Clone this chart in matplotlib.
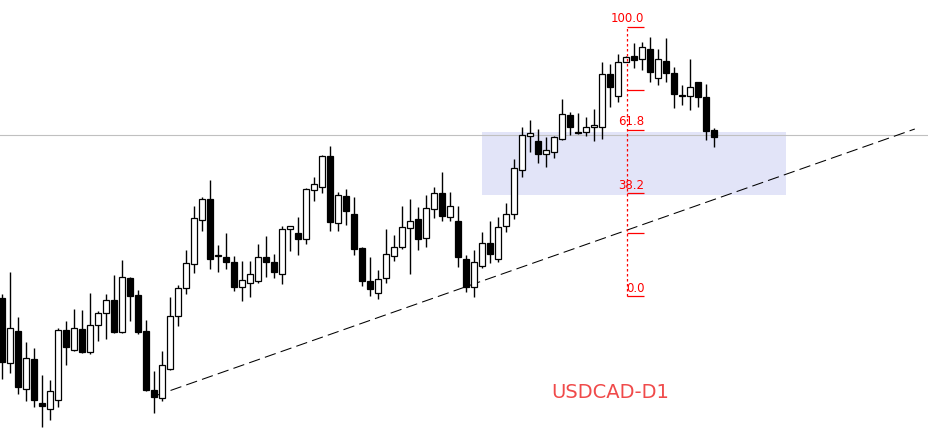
import numpy as np
import matplotlib
matplotlib.use("Agg")
import matplotlib.pyplot as plt
from matplotlib.patches import Rectangle

# USDCAD daily candles, price levels (arbitrary units, up = higher)
opens = [147, 82, 114, 56, 86, 42, 36, 45, 115, 95, 116, 93, 120, 132, 145, 113, 167, 150, 114, 55,
         47, 76, 129, 157, 181, 225, 246, 189, 188, 183, 158, 162, 164, 188, 183, 171, 216, 212, 206, 255,
         258, 289, 222, 249, 231, 197, 164, 152, 167, 189, 198, 217, 226, 207, 236, 252, 228, 224, 186, 158,
         179, 202, 186, 219, 231, 275, 309, 304, 291, 293, 306, 330, 312.5, 313, 318, 318, 371, 349, 383, 389,
         386, 396, 367, 384, 372, 350.5, 349, 363, 348, 315]
highs = [151, 173, 128, 103, 97, 70, 65, 117, 124, 136, 135, 152, 134, 151, 170, 185, 168, 155, 125, 74,
         94, 148, 160, 195, 239, 248, 265, 200, 212, 189, 184, 184, 201, 209, 191, 219, 219, 228, 257, 268,
         290, 299, 253, 256, 248, 198, 188, 175, 216, 210, 239, 246, 238, 250, 258, 273, 253, 239, 190, 195,
         213, 224, 228, 242, 286, 318, 325, 316, 308, 309, 346, 333, 332, 328, 336, 383, 381, 391, 389, 402,
         403, 408, 396, 407, 378, 360, 386, 363, 361, 317]
lows = [66, 72, 51, 44, 38, 18, 25, 38, 80, 94, 92, 91, 104, 106, 112, 112, 124, 111, 54, 32,
        44, 75, 119, 151, 172, 214, 176, 173, 176, 154, 144, 148, 162, 168, 167, 161, 194, 190, 201, 244,
        252, 214, 214, 220, 190, 159, 149, 146, 162, 184, 196, 171, 195, 198, 227, 224, 224, 178, 153, 148,
        177, 182, 183, 213, 226, 268, 293, 282, 278, 287, 305, 310, 311, 309, 304, 306, 338, 343, 383, 377,
        375, 363, 360, 363, 337, 340, 335, 338, 305, 298]
closes = [83, 117, 58, 87, 45, 39, 54, 115, 98, 117, 93, 120, 132, 145, 113, 168, 149, 113, 55, 48,
          80, 129, 157, 182, 227, 246, 186, 189, 183, 158, 165, 171, 188, 183, 173, 216, 219, 206, 256, 261,
          289, 223, 250, 234, 196, 164, 156, 166, 191, 198, 218, 224, 206, 237, 252, 229, 239, 188, 158, 183,
          202, 191, 218, 231, 277, 310, 312, 291, 295, 308, 331, 318, 312, 318, 320, 371, 358, 383, 388, 385,
          398, 373, 386, 372, 351, 349.5, 358, 348, 314, 308]

# analysis objects
fib_levels = [0.0, 23.6, 38.2, 61.8, 76.4, 100.0]
fib_labels = ["0.0", "", "38.2", "61.8", "", "100.0"]
fib_low, fib_high = 149, 418
fib_bar = 78.1
zone_bottom, zone_top = 250, 313
zone_start, zone_end = 60, 98
h_line = 310
trend_x = [19.1, 114.1]
trend_y = [49, 316]

fig = plt.figure(figsize=(9.29, 4.45), dpi=100)
ax = fig.add_axes([0, 0, 1, 1])
ax.set_xlim(-0.25, 115.875)
ax.set_ylim(0, 445)
ax.axis("off")

# zone and horizontal level
ax.add_patch(Rectangle((zone_start, zone_bottom), zone_end - zone_start, zone_top - zone_bottom,
                       facecolor="#e2e4f8", edgecolor="none", zorder=0.5))
ax.axhline(h_line, color="#c0c0c0", lw=0.8, zorder=1)

# trend line
ax.plot(trend_x, trend_y, color="black", lw=0.75, dashes=(11, 5), zorder=2)

# candles
x = np.arange(len(opens))
o = np.array(opens, float)
c = np.array(closes, float)
ax.vlines(x, lows, highs, color="black", lw=1.0, zorder=3)
up = c >= o
body_h = np.maximum(np.abs(c - o), 0.8)
ax.bar(x, body_h, bottom=np.minimum(o, c), width=0.68,
       color=np.where(up, "white", "black"), edgecolor="black", linewidth=0.9, zorder=4)

# fibonacci retracement
ax.vlines(fib_bar, fib_low, fib_high, color="red", lw=0.9, linestyles=(0, (2, 2)), zorder=5)
for lvl, lab in zip(fib_levels, fib_labels):
    yv = fib_low + (fib_high - fib_low) * lvl / 100
    ax.hlines(yv, fib_bar, fib_bar + 2.2, color="red", lw=0.9, zorder=5)
    if lab:
        ax.text(fib_bar + 2.2, yv + 1.5, lab, color="red", fontsize=8.5,
                ha="right", va="bottom", zorder=6)

ax.text(76, 52, "USDCAD-D1", color="#f04a4a", fontsize=14, ha="center", va="center")

fig.savefig("out.png", dpi=100)
